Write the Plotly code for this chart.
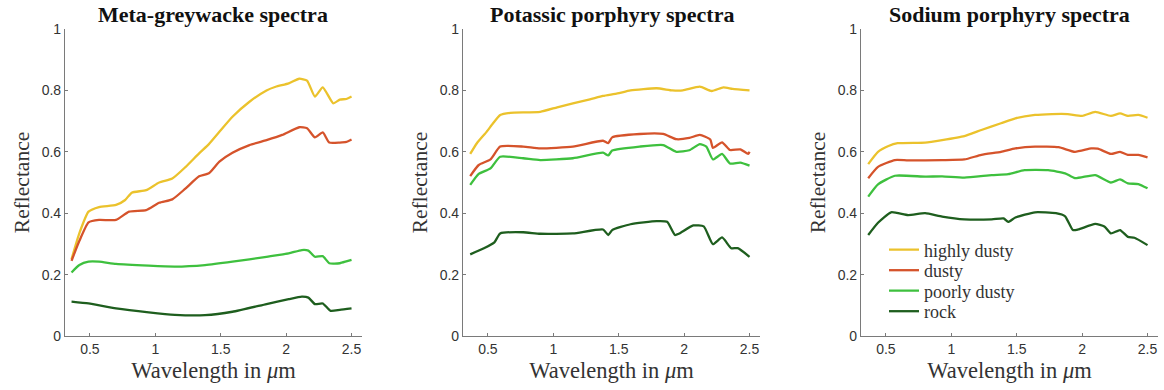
import plotly.graph_objects as go

# ---------------- data ----------------
series_names = ["highly dusty", "dusty", "poorly dusty", "rock"]
series_colors = ["#EBC22C", "#D5532B", "#3EC03E", "#1E5E1E"]

panel_titles = ["Meta-greywacke spectra", "Potassic porphyry spectra", "Sodium porphyry spectra"]

# Meta-greywacke
mg_hd_x = [0.36, 0.42, 0.49, 0.57, 0.70, 0.77, 0.82, 0.93, 1.03, 1.13, 1.23, 1.335, 1.41, 1.49, 1.59, 1.72, 1.85, 1.92, 2.02, 2.10, 2.16, 2.22, 2.28, 2.36, 2.41, 2.46, 2.50]
mg_hd_y = [0.25, 0.335, 0.405, 0.42, 0.427, 0.443, 0.467, 0.475, 0.50, 0.513, 0.55, 0.595, 0.625, 0.665, 0.714, 0.763, 0.80, 0.812, 0.823, 0.838, 0.832, 0.78, 0.81, 0.758, 0.77, 0.772, 0.78]
mg_d_x = [0.36, 0.42, 0.49, 0.57, 0.70, 0.80, 0.93, 1.03, 1.13, 1.23, 1.335, 1.41, 1.49, 1.59, 1.72, 1.85, 1.97, 2.10, 2.16, 2.22, 2.28, 2.33, 2.41, 2.46, 2.50]
mg_d_y = [0.245, 0.31, 0.37, 0.378, 0.378, 0.405, 0.41, 0.434, 0.445, 0.48, 0.52, 0.53, 0.568, 0.597, 0.622, 0.638, 0.655, 0.68, 0.677, 0.647, 0.663, 0.63, 0.63, 0.632, 0.64]
mg_pd_x = [0.36, 0.42, 0.49, 0.57, 0.70, 0.95, 1.15, 1.38, 1.59, 1.85, 2.02, 2.12, 2.17, 2.22, 2.28, 2.33, 2.41, 2.46, 2.50]
mg_pd_y = [0.207, 0.231, 0.242, 0.242, 0.235, 0.229, 0.226, 0.231, 0.242, 0.258, 0.269, 0.28, 0.278, 0.258, 0.26, 0.237, 0.237, 0.243, 0.248]
mg_r_x = [0.36, 0.49, 0.70, 0.95, 1.15, 1.38, 1.59, 1.85, 2.02, 2.12, 2.17, 2.22, 2.28, 2.34, 2.41, 2.50]
mg_r_y = [0.112, 0.106, 0.09, 0.077, 0.069, 0.068, 0.079, 0.104, 0.12, 0.128, 0.125, 0.104, 0.106, 0.082, 0.085, 0.09]

# Potassic porphyry
kp_hd_x = [0.365, 0.416, 0.49, 0.54, 0.594, 0.67, 0.90, 1.03, 1.15, 1.28, 1.38, 1.49, 1.59, 1.79, 1.91, 1.99, 2.12, 2.21, 2.30, 2.37, 2.50]
kp_hd_y = [0.593, 0.628, 0.665, 0.693, 0.72, 0.727, 0.73, 0.745, 0.758, 0.771, 0.782, 0.79, 0.80, 0.807, 0.80, 0.80, 0.812, 0.798, 0.81, 0.805, 0.80]
kp_d_x = [0.365, 0.43, 0.52, 0.594, 0.77, 0.90, 1.15, 1.38, 1.42, 1.45, 1.66, 1.84, 1.94, 2.04, 2.12, 2.20, 2.22, 2.29, 2.35, 2.43, 2.49, 2.50]
kp_d_y = [0.521, 0.557, 0.575, 0.617, 0.617, 0.611, 0.617, 0.636, 0.628, 0.647, 0.658, 0.658, 0.641, 0.645, 0.655, 0.64, 0.613, 0.631, 0.606, 0.608, 0.593, 0.60]
kp_pd_x = [0.365, 0.43, 0.52, 0.594, 0.77, 0.90, 1.15, 1.38, 1.42, 1.45, 1.66, 1.84, 1.94, 2.04, 2.12, 2.17, 2.22, 2.29, 2.35, 2.43, 2.50]
kp_pd_y = [0.492, 0.528, 0.546, 0.584, 0.579, 0.573, 0.579, 0.597, 0.588, 0.604, 0.617, 0.622, 0.60, 0.605, 0.625, 0.617, 0.575, 0.593, 0.562, 0.565, 0.555]
kp_r_x = [0.365, 0.47, 0.55, 0.594, 0.77, 0.90, 1.15, 1.38, 1.42, 1.45, 1.59, 1.79, 1.87, 1.93, 1.96, 2.07, 2.15, 2.22, 2.29, 2.36, 2.41, 2.50]
kp_r_y = [0.266, 0.286, 0.305, 0.334, 0.338, 0.333, 0.334, 0.347, 0.329, 0.345, 0.364, 0.374, 0.372, 0.329, 0.333, 0.36, 0.357, 0.299, 0.321, 0.286, 0.286, 0.258]

# Sodium porphyry
np_hd_x = [0.365, 0.44, 0.52, 0.59, 0.80, 0.93, 1.10, 1.23, 1.38, 1.49, 1.64, 1.77, 1.89, 2.00, 2.10, 2.22, 2.29, 2.35, 2.43, 2.50]
np_hd_y = [0.56, 0.60, 0.619, 0.628, 0.63, 0.638, 0.651, 0.671, 0.693, 0.709, 0.72, 0.723, 0.723, 0.717, 0.73, 0.717, 0.725, 0.717, 0.72, 0.711]
np_d_x = [0.365, 0.44, 0.569, 0.67, 0.93, 1.10, 1.23, 1.38, 1.49, 1.64, 1.82, 1.945, 2.07, 2.12, 2.22, 2.29, 2.35, 2.43, 2.50]
np_d_y = [0.514, 0.551, 0.573, 0.572, 0.573, 0.575, 0.59, 0.60, 0.611, 0.617, 0.615, 0.60, 0.611, 0.61, 0.593, 0.60, 0.59, 0.59, 0.582]
np_pd_x = [0.365, 0.44, 0.569, 0.80, 0.93, 1.10, 1.31, 1.435, 1.56, 1.74, 1.87, 1.945, 2.10, 2.22, 2.29, 2.35, 2.43, 2.50]
np_pd_y = [0.454, 0.494, 0.522, 0.519, 0.52, 0.516, 0.524, 0.527, 0.54, 0.54, 0.53, 0.514, 0.524, 0.50, 0.51, 0.497, 0.495, 0.481]
np_r_x = [0.365, 0.44, 0.54, 0.67, 0.80, 0.93, 1.10, 1.31, 1.40, 1.435, 1.49, 1.64, 1.80, 1.87, 1.93, 1.97, 2.10, 2.17, 2.22, 2.29, 2.35, 2.40, 2.50]
np_r_y = [0.329, 0.369, 0.403, 0.394, 0.40, 0.389, 0.38, 0.38, 0.383, 0.372, 0.386, 0.403, 0.40, 0.39, 0.345, 0.347, 0.365, 0.357, 0.334, 0.345, 0.323, 0.32, 0.296]

panels = [
    [(mg_hd_x, mg_hd_y), (mg_d_x, mg_d_y), (mg_pd_x, mg_pd_y), (mg_r_x, mg_r_y)],
    [(kp_hd_x, kp_hd_y), (kp_d_x, kp_d_y), (kp_pd_x, kp_pd_y), (kp_r_x, kp_r_y)],
    [(np_hd_x, np_hd_y), (np_d_x, np_d_y), (np_pd_x, np_pd_y), (np_r_x, np_r_y)],
]

x_ticks = [0.5, 1, 1.5, 2, 2.5]
x_tick_text = ["0.5", "1", "1.5", "2", "2.5"]
y_ticks = [0, 0.2, 0.4, 0.6, 0.8, 1]
y_tick_text = ["0", "0.2", "0.4", "0.6", "0.8", "1"]

# ---------------- figure ----------------
W, H = 1164, 390
TOP, BOT = 29, 336
domains = [(65, 362), (463, 760), (861, 1158)]
legend_rows_px = [250, 270.5, 291, 311.5]

fig = go.Figure()
serif = "Liberation Serif, Times New Roman, serif"
sans = "Liberation Sans, Arial, sans-serif"

for p, series in enumerate(panels):
    xa = "x" if p == 0 else f"x{p+1}"
    ya = "y" if p == 0 else f"y{p+1}"
    for s, (xs, ys) in enumerate(series):
        fig.add_trace(go.Scatter(
            x=xs, y=ys, mode="lines", name=series_names[s],
            line=dict(color=series_colors[s], width=2.3, shape="spline", smoothing=0.5),
            xaxis=xa, yaxis=ya, showlegend=(p == 2),
            legend="legend" if s == 0 else f"legend{s+1}",
        ))
    d0, d1 = domains[p]
    axis_common = dict(showgrid=False, zeroline=False, showline=True, linecolor="#7a7a7a",
                       linewidth=1.2, ticks="inside", ticklen=3, tickcolor="#7a7a7a",
                       tickfont=dict(family=sans, size=14, color="#333333"))
    fig.layout[f"xaxis{'' if p == 0 else p+1}"] = dict(
        domain=[d0 / W, d1 / W], range=[0.31, 2.58], anchor=ya,
        tickvals=x_ticks, ticktext=x_tick_text,
        title=dict(text="Wavelength in <i>μ</i>m", font=dict(family=serif, size=22.5, color="#333333"), standoff=6),
        **axis_common)
    fig.layout[f"yaxis{'' if p == 0 else p+1}"] = dict(
        domain=[0, 1], range=[0, 1], anchor=xa,
        tickvals=y_ticks, ticktext=y_tick_text,
        title=dict(text="Reflectance", font=dict(family=serif, size=21.5, color="#333333"), standoff=6),
        **axis_common)
    fig.add_annotation(
        text=f"<b>{panel_titles[p]}</b>", xref="paper", yref="paper",
        x=(d0 + d1) / 2 / W, y=(BOT - 15) / (BOT - TOP), xanchor="center", yanchor="middle",
        showarrow=False, font=dict(family=serif, size=22, color="#111111"))

leg_common = dict(xanchor="left", yanchor="middle", bgcolor="rgba(0,0,0,0)", borderwidth=0,
                  font=dict(family=serif, size=18, color="#333333"), itemwidth=30)
layout_legends = {}
for i, ypx in enumerate(legend_rows_px):
    key = "legend" if i == 0 else f"legend{i+1}"
    layout_legends[key] = dict(x=884 / W, y=(BOT - ypx) / (BOT - TOP), **leg_common)

fig.update_layout(
    width=W, height=H,
    margin=dict(l=0, r=0, t=TOP, b=H - BOT),
    paper_bgcolor="white", plot_bgcolor="white",
    showlegend=True,
    **layout_legends,
)

fig.write_html("out.html")
